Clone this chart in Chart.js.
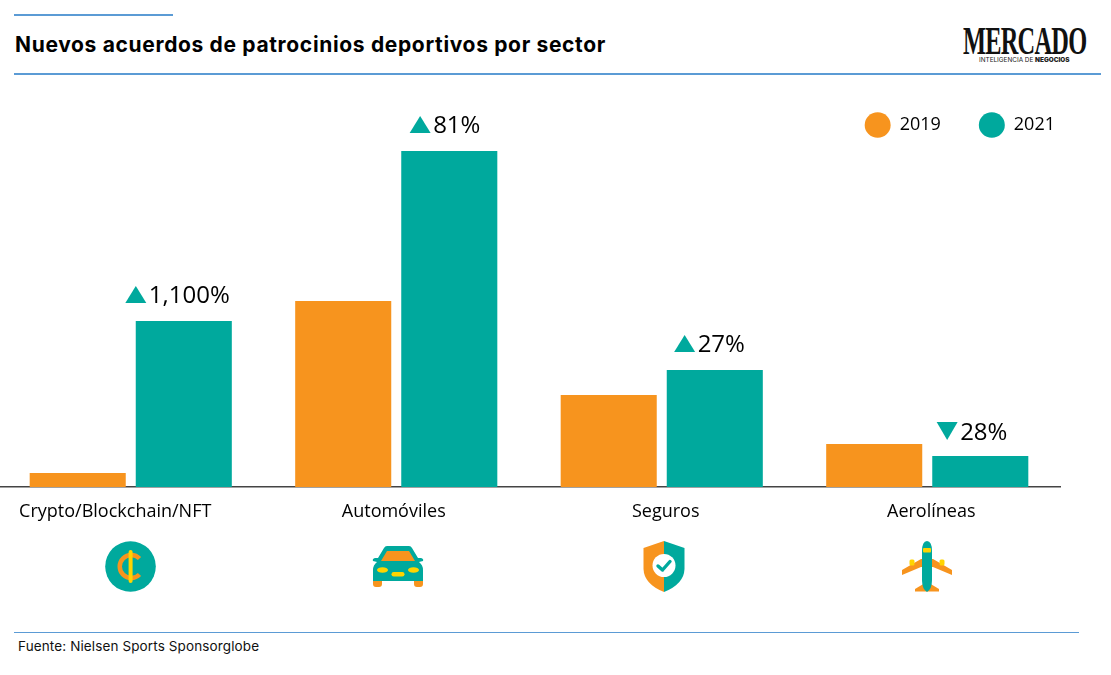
<!DOCTYPE html>
<html lang="es">
<head>
<meta charset="utf-8">
<script src="https://cdn.jsdelivr.net/npm/chart.js@4"></script>
<style>
html,body{margin:0;padding:0;background:#fff;width:1111px;height:675px;overflow:hidden}
#wrap{position:absolute;left:-2px;top:0;width:1113px;height:675px}
.rule{position:absolute;height:2px;background:#5b9bd5}
.abs{position:absolute;white-space:nowrap;color:#000}
svg{position:absolute;overflow:visible;pointer-events:none}
</style>
</head>
<body>
<div class="rule" style="left:14px;top:14px;width:159px"></div>
<div class="rule" style="left:14px;top:73px;width:1087px"></div>
<div class="rule" style="left:14px;top:632px;width:1065px;height:1px"></div>
<div class="abs" id="title" style="left:15px;top:32px;font:700 21px Inter,sans-serif;letter-spacing:.66px">Nuevos acuerdos de patrocinios deportivos por sector</div>
<div class="abs" id="logo" style="left:963px;top:18px;font:700 39px 'Liberation Serif',serif;transform-origin:0 0;transform:scaleX(.625);letter-spacing:-1.2px;color:#111">MERCADO</div>
<div class="abs" style="left:979px;top:56px;font:400 6.4px Inter,sans-serif;color:#222">INTELIGENCIA DE <b style="font-weight:900">NEGOCIOS</b></div>
<div class="abs" id="src" style="left:18px;top:638px;font:400 13.5px Inter,sans-serif;letter-spacing:.12px;color:#111">Fuente: Nielsen Sports Sponsorglobe</div>

<div id="wrap"><canvas id="c" width="1113" height="675"></canvas></div>

<!-- iconos -->
<svg style="left:0;top:0" width="1111" height="675">
  <circle cx="130.5" cy="566.5" r="25.3" fill="#00A99D"/>
  <path d="M139.5 558.5 A11.5 11.5 0 1 0 139.5 574.5" fill="none" stroke="#F7941E" stroke-width="4.5"/>
  <rect x="128.6" y="550" width="4" height="33" rx="2" fill="#FFD400"/>

  <path d="M384 548 Q385 546 387 546 H409 Q411 546 412 548 L418 558 H421 Q424 559 423 561 L419 562 Q423 565 423 570 V581 H373 V570 Q373 565 377 562 L373 561 Q372 559 375 558 H378Z" fill="#00A99D"/>
  <path d="M387 551 H409 L415 561 H381Z" fill="#F7941E"/>
  <ellipse cx="382.5" cy="570" rx="5.5" ry="2.8" fill="#FFD400"/>
  <ellipse cx="413.5" cy="570" rx="5.5" ry="2.8" fill="#FFD400"/>
  <rect x="391.5" y="572" width="13" height="4.5" rx="2.2" fill="#FFD400"/>
  <path d="M373 581 H382 V584 Q382 587 379 587 H376 Q373 587 373 584Z M414 581 H423 V584 Q423 587 420 587 H417 Q414 587 414 584Z" fill="#F7941E"/>

  <path d="M664 541 L643.5 548 V569 Q644 584 664 592Z" fill="#F7941E"/>
  <path d="M664 541 L684.5 548 V569 Q684 584 664 592Z" fill="#00A99D"/>
  <circle cx="664" cy="565.5" r="11.5" fill="#fff"/>
  <path d="M658 566 L662.5 570 L670 561.5" fill="none" stroke="#00A99D" stroke-width="3.4" stroke-linecap="round" stroke-linejoin="round"/>

  <path d="M921 559 H933 L952 570 V575 L933 567 H921 L902 575 V570Z" fill="#F7941E"/>
  <rect x="909.5" y="559.5" width="5" height="6" rx="1.5" fill="#FFD400"/>
  <rect x="939.5" y="559.5" width="5" height="6" rx="1.5" fill="#FFD400"/>
  <path d="M925 583 L915 589 V591.5 H939 V589 L929 583Z" fill="#F7941E"/>
  <path d="M927 541 Q932 541.5 932 551 V580 Q932 589 927 592 Q922 589 922 580 V551 Q922 541.5 927 541Z" fill="#00A99D"/>
  <rect x="923" y="548" width="8" height="4.5" rx="1" fill="#FFD400"/>
</svg>

<script>
const categories = ['Crypto/Blockchain/NFT', 'Automóviles', 'Seguros', 'Aerolíneas'];
const series2019 = [14, 186, 92, 43];
const series2021 = [166, 336, 117, 31];
const changeLabels = ['1,100%', '81%', '27%', '28%'];
const changeDirections = ['up', 'up', 'up', 'down'];
const orange = '#F7941E', teal = '#00A99D';
const bodyFont = "'Open Sans', sans-serif";
const tickNudge = [-15.5, -2.5, 4, 4];
const changeNudge = [-6, -4, -5, -8];

const changePlugin = {
  id: 'changeLabels',
  afterInit(chart) {
    // keep the legend's wide item gap from pushing the plot area down
    const fit = chart.legend.fit;
    chart.legend.fit = function () { fit.call(this); this.height = 60; };
  },
  beforeDraw(chart) {
    // legend sits further right than the plot area's right edge
    chart.legend.right = 1095;
    // the category labels are not quite centred under their bars
    chart.scales.x.getLabelItems().forEach((item, i) => {
      if (!item._nudged) { item.options.translation[0] += tickNudge[i]; item._nudged = true; }
    });
  },
  afterDatasetsDraw(chart) {
    const { ctx } = chart;
    const meta = chart.getDatasetMeta(1);
    ctx.save();
    ctx.font = '24px ' + bodyFont;
    ctx.textBaseline = 'middle';
    ctx.textAlign = 'left';
    meta.data.forEach((bar, i) => {
      const text = changeLabels[i];
      const w = ctx.measureText(text).width;
      const total = 20 + 3 + w;
      const left = bar.x + changeNudge[i] - total / 2;
      const up = changeDirections[i] === 'up';
      const cy = bar.y - (up ? 26 : 25);
      ctx.fillStyle = teal;
      ctx.beginPath();
      if (up) {
        ctx.moveTo(left + 10, cy - 9); ctx.lineTo(left + 20.5, cy + 8); ctx.lineTo(left - 0.5, cy + 8);
      } else {
        ctx.moveTo(left - 0.5, cy - 9); ctx.lineTo(left + 20.5, cy - 9); ctx.lineTo(left + 10, cy + 9);
      }
      ctx.closePath();
      ctx.fill();
      ctx.fillStyle = '#000';
      ctx.fillText(text, left + 23, up ? cy + 1 : cy + 2);
    });
    ctx.restore();
  }
};

new Chart(document.getElementById('c'), {
  type: 'bar',
  data: {
    labels: categories,
    datasets: [
      { label: '2019', data: series2019, backgroundColor: orange },
      { label: '2021', data: series2021, backgroundColor: teal }
    ]
  },
  options: {
    responsive: false,
    animation: false,
    devicePixelRatio: 1,
    layout: { padding: { top: 78, right: 51, left: 0, bottom: 138.5 } },
    datasets: { bar: { categoryPercentage: 0.799, barPercentage: 0.9057 } },
    scales: {
      x: {
        grid: { display: false, drawTicks: false },
        border: { color: '#444', width: 1.5 },
        ticks: { color: '#000', font: { family: bodyFont, size: 18 }, padding: 14, maxRotation: 0, autoSkip: false }
      },
      y: {
        display: false,
        min: 0,
        max: 349
      }
    },
    plugins: {
      tooltip: { enabled: false },
      legend: {
        position: 'top',
        align: 'end',
        labels: {
          usePointStyle: true,
          pointStyle: 'circle',
          pointStyleWidth: 26,
          boxHeight: 18,
          padding: 38,
          color: '#000',
          font: { family: bodyFont, size: 18 }
        }
      }
    }
  },
  plugins: [changePlugin]
});
</script>
</body>
</html>
